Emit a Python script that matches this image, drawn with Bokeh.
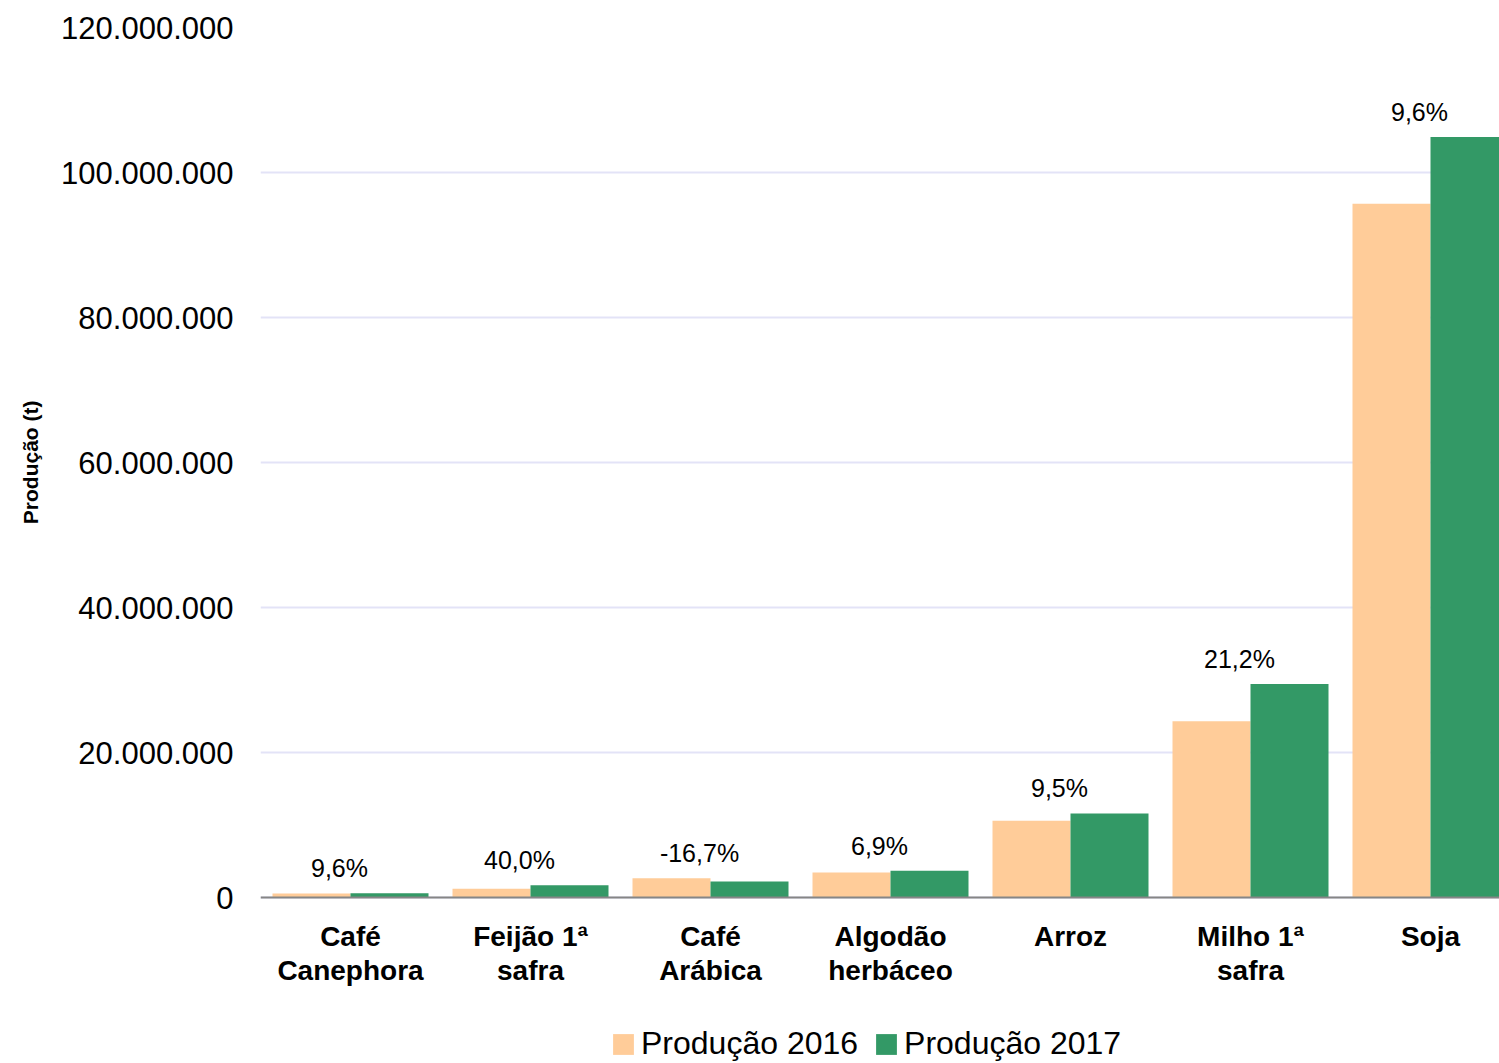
from bokeh.plotting import figure
from bokeh.models import (ColumnDataSource, Range1d, FixedTicker, Legend, LegendItem, Title)
from bokeh.transform import dodge
from bokeh.core.properties import value
from bokeh.embed import file_html
from bokeh.resources import INLINE

categories = ["Café\nCanephora", "Feijão 1ª\nsafra", "Café\nArábica", "Algodão\nherbáceo",
              "Arroz", "Milho 1ª\nsafra", "Soja"]
prod_2016 = [550000, 1200000, 2650000, 3450000, 10600000, 24300000, 95700000]
prod_2017 = [600000, 1680000, 2210000, 3690000, 11600000, 29450000, 104900000]
variation = ["9,6%", "40,0%", "-16,7%", "6,9%", "9,5%", "21,2%", "9,6%"]
y_ticks = [0, 20000000, 40000000, 60000000, 80000000, 100000000, 120000000]
y_tick_labels = ["0", "20.000.000", "40.000.000", "60.000.000", "80.000.000",
                 "100.000.000", "120.000.000"]
series_names = ["Produção 2016", "Produção 2017"]
y_title = "Produção (t)"

C2016 = "#FFCC99"
C2017 = "#339966"
FONT = "Liberation Sans"

FRAME_W, FRAME_H, PLOT_H = 1244, 1036, 870
GROUP_PX = 180
Y_MAX = 120000000
y_min = -Y_MAX * (FRAME_H - PLOT_H) / PLOT_H   # room below the baseline for labels/legend

xs = [i + 0.5 for i in range(len(categories))]
src = ColumnDataSource(dict(
    x=xs, a=prod_2016, b=prod_2017,
    top=[max(a, b) for a, b in zip(prod_2016, prod_2017)],
    lab=variation,
))

p = figure(frame_width=FRAME_W, frame_height=FRAME_H, output_backend="svg",
           toolbar_location=None,
           x_range=Range1d(0, FRAME_W / GROUP_PX), y_range=Range1d(y_min, Y_MAX),
           min_border_left=255, min_border_right=0, min_border_top=27,
           min_border_bottom=0)
p.outline_line_color = None
p.background_fill_color = "white"
p.border_fill_color = "white"

bw = 78 / GROUP_PX
r1 = p.vbar(x=dodge("x", -bw / 2, range=p.x_range), top="a", bottom=0, width=bw,
            source=src, fill_color=C2016, line_color=None)
r2 = p.vbar(x=dodge("x", bw / 2, range=p.x_range), top="b", bottom=0, width=bw,
            source=src, fill_color=C2017, line_color=None)

p.text(x="x", y="top", text="lab", source=src, x_offset=-11, y_offset=-25,
       text_align="center", text_baseline="alphabetic",
       text_font=value(FONT), text_font_size="25px", text_color="#000000")

# x axis, drawn at the zero baseline
p.xaxis.fixed_location = 0
p.xaxis.ticker = FixedTicker(ticks=xs)
p.xaxis.major_label_overrides = {x: c for x, c in zip(xs, categories)}
p.xaxis.major_label_text_font = FONT
p.xaxis.major_label_text_font_style = "bold"
p.xaxis.major_label_text_font_size = "28px"
p.xaxis.major_label_text_line_height = 1.12
p.xaxis.major_label_text_color = "#000000"
p.xaxis.major_label_standoff = 23
p.xaxis.major_tick_out = 0
p.xaxis.major_tick_in = 0
p.xaxis.minor_tick_out = 0
p.xaxis.minor_tick_in = 0
p.xaxis.axis_line_color = "#868686"
p.xaxis.axis_line_width = 2

# y axis
p.yaxis.ticker = FixedTicker(ticks=y_ticks)
p.yaxis.major_label_overrides = {t: l for t, l in zip(y_ticks, y_tick_labels)}
p.yaxis.major_label_text_font = FONT
p.yaxis.major_label_text_font_size = "31px"
p.yaxis.major_label_text_color = "#000000"
p.yaxis.major_label_standoff = 27
p.yaxis.major_tick_out = 0
p.yaxis.major_tick_in = 0
p.yaxis.minor_tick_out = 0
p.yaxis.minor_tick_in = 0
p.yaxis.axis_line_color = None

# y title, vertical, in the left panel, aligned towards the top of the value span
p.add_layout(Title(text=y_title, align="right", offset=373, standoff=33,
                   text_font=FONT, text_font_style="bold", text_font_size="21px",
                   text_color="#000000"), "left")

p.xgrid.grid_line_color = None
p.ygrid.grid_line_color = "#E3E3F7"
p.ygrid.grid_line_width = 2

legend = Legend(items=[LegendItem(label=series_names[0], renderers=[r1]),
                       LegendItem(label=series_names[1], renderers=[r2])],
                orientation="horizontal", location=(350, 1),
                glyph_width=26, glyph_height=26, label_standoff=5, spacing=15,
                label_text_font=FONT, label_text_font_size="32px",
                label_text_color="#000000", border_line_color=None,
                background_fill_alpha=0, padding=0, margin=0)
p.add_layout(legend, "center")

open("out.html", "w").write(file_html(p, INLINE))
